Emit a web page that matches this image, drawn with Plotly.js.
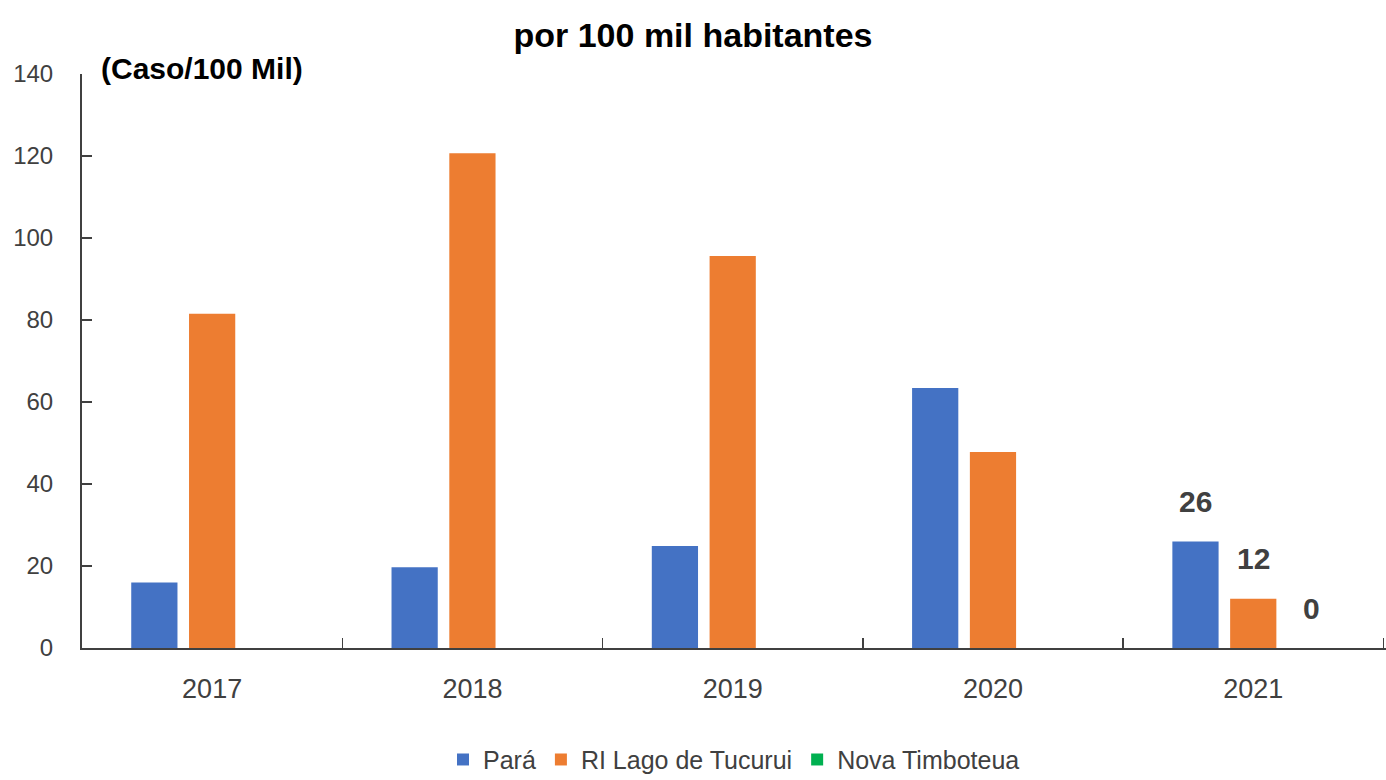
<!DOCTYPE html>
<html>
<head>
<meta charset="utf-8">
<script src="https://cdn.plot.ly/plotly-3.0.1.min.js"></script>
<style>html,body{margin:0;padding:0;background:#fff;}#chart{width:1386px;height:780px;}</style>
</head>
<body>
<div id="chart"></div>
<script>
const years = ['2017', '2018', '2019', '2020', '2021'];
const seriesNames = ['Pará', 'RI Lago de Tucurui', 'Nova Timboteua'];
const para = [16, 19.7, 24.9, 63.4, 26];
const lagoTucurui = [81.5, 120.7, 95.6, 47.8, 12];
const novaTimboteua = [0, 0, 0, 0, 0];
const labelYear = '2021';
const labelValues = [26, 12, 0];
const yTicks = [0, 20, 40, 60, 80, 100, 120, 140];
const titleText = 'por 100 mil habitantes';
const unitText = '(Caso/100 Mil)';

const FONT = '"Liberation Sans Narrow", "Arial Narrow", "Liberation Sans", Arial, sans-serif';
const colors = ['#4472C4', '#ED7D31', '#00B050'];
const allSeries = [para, lagoTucurui, novaTimboteua];

const traces = allSeries.map((vals, i) => ({
  type: 'bar', name: seriesNames[i], x: years, y: vals,
  marker: {color: colors[i]}, hoverinfo: 'none'
}));

const labelIndex = years.indexOf(labelYear);
const shifts = [-58, 0, 58];
const annotations = labelValues.map((v, i) => ({
  xref: 'x', yref: 'y', x: labelIndex, y: v, xshift: shifts[i], yshift: 40,
  text: '<b>' + String(v) + '</b>', showarrow: false,
  font: {family: FONT, size: 30, color: '#404040'}
}));
annotations.push({
  xref: 'paper', yref: 'paper', x: 0.013, y: 1.0, xanchor: 'left', yanchor: 'middle', yshift: 6,
  text: '<b>' + unitText + '</b>', showarrow: false,
  font: {family: FONT, size: 30, color: '#000'}
});

const layout = {
  width: 1386, height: 780,
  margin: {l: 82, r: 0, t: 74, b: 132, autoexpand: false},
  paper_bgcolor: '#fff', plot_bgcolor: '#fff',
  font: {family: FONT, color: '#404040', size: 20},
  title: {text: '<b>' + titleText + '</b>', x: 0.5, xanchor: 'center', y: 0.955, yanchor: 'middle',
          font: {family: FONT, size: 34, color: '#000'}},
  barmode: 'group', bargap: 0.334, bargroupgap: 0.2,
  showlegend: true,
  legend: {orientation: 'h', x: 0.5, xanchor: 'center', yref: 'container', y: 0.026, yanchor: 'middle',
           font: {family: FONT, size: 25, color: '#404040'}, traceorder: 'normal'},
  xaxis: {type: 'category', range: [-0.5, years.length - 0.49], showline: true, linecolor: '#404040', linewidth: 2,
          ticks: 'inside', ticklen: 10, tickwidth: 1.5, tickcolor: '#404040', tickson: 'boundaries',
          showgrid: false, zeroline: false, ticklabelstandoff: 16, automargin: false,
          tickfont: {family: FONT, size: 27, color: '#404040'}},
  yaxis: {range: [0, 140], tickvals: yTicks, showline: true, linecolor: '#404040', linewidth: 2,
          ticks: 'inside', ticklen: 10, tickwidth: 1.5, tickcolor: '#404040',
          showgrid: false, zeroline: false, ticklabelstandoff: 22, automargin: false,
          tickfont: {family: FONT, size: 24, color: '#404040'}},
  annotations: annotations
};

Plotly.newPlot('chart', traces, layout, {displayModeBar: false, staticPlot: true});
</script>
</body>
</html>
